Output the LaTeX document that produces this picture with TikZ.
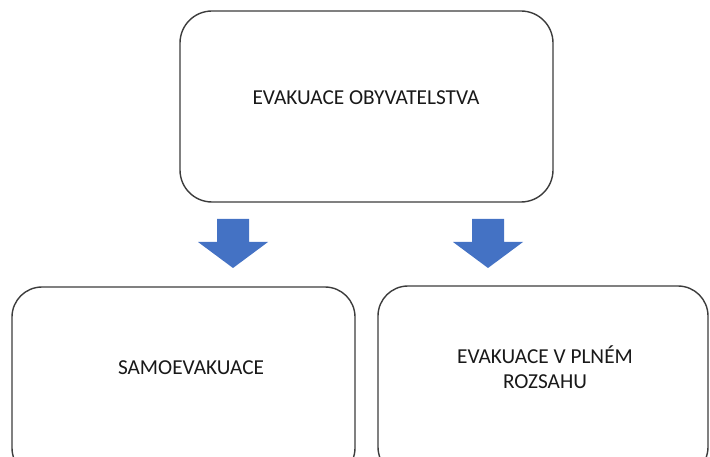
\documentclass[tikz,border=0pt]{standalone}
\usepackage{fontspec}
\setmainfont{Carlito}

\definecolor{arrowblue}{RGB}{68,114,196}
\definecolor{boxline}{RGB}{60,60,60}

\begin{document}
\begin{tikzpicture}[
    x=1pt, y=-1pt,
    box/.style={draw=boxline, line width=1.4pt, fill=white, rounded corners=#1, inner sep=0pt},
    box/.default=30pt,
    box text/.style={font=\fontsize{21.3}{25}\selectfont, align=center, text=black!90},
    block arrow/.style={fill=arrowblue}
]
\useasboundingbox (0,0) rectangle (710,457);
\clip (0,0) rectangle (710,457);

% Top box
\node[box=32pt, minimum width=373pt, minimum height=191pt] (evac) at (366.5,106.5) {};
\node[box text] (evacText) at (366,98) {EVAKUACE OBYVATELSTVA};

% Block arrows
\coordinate (arrL) at (233,219);
\coordinate (arrR) at (488,219);
\foreach \a in {arrL,arrR} {
    \fill[block arrow] (\a) ++(-16,0) -- ++(32,0) -- ++(0,23) -- ++(19,0)
        -- ++(-35,26) -- ++(-35,-26) -- ++(19,0) -- cycle;
}

% Bottom boxes (cut off by the page)
\node[box, minimum width=343pt, minimum height=191pt] (self) at (183.5,382.5) {};
\node[box text] (selfText) at (191,368) {SAMOEVAKUACE};

\node[box, minimum width=330pt, minimum height=191pt] (full) at (543,381.5) {};
\node[box text] (fullText) at (545,367) {EVAKUACE V PLNÉM\\ROZSAHU};

\end{tikzpicture}
\end{document}
